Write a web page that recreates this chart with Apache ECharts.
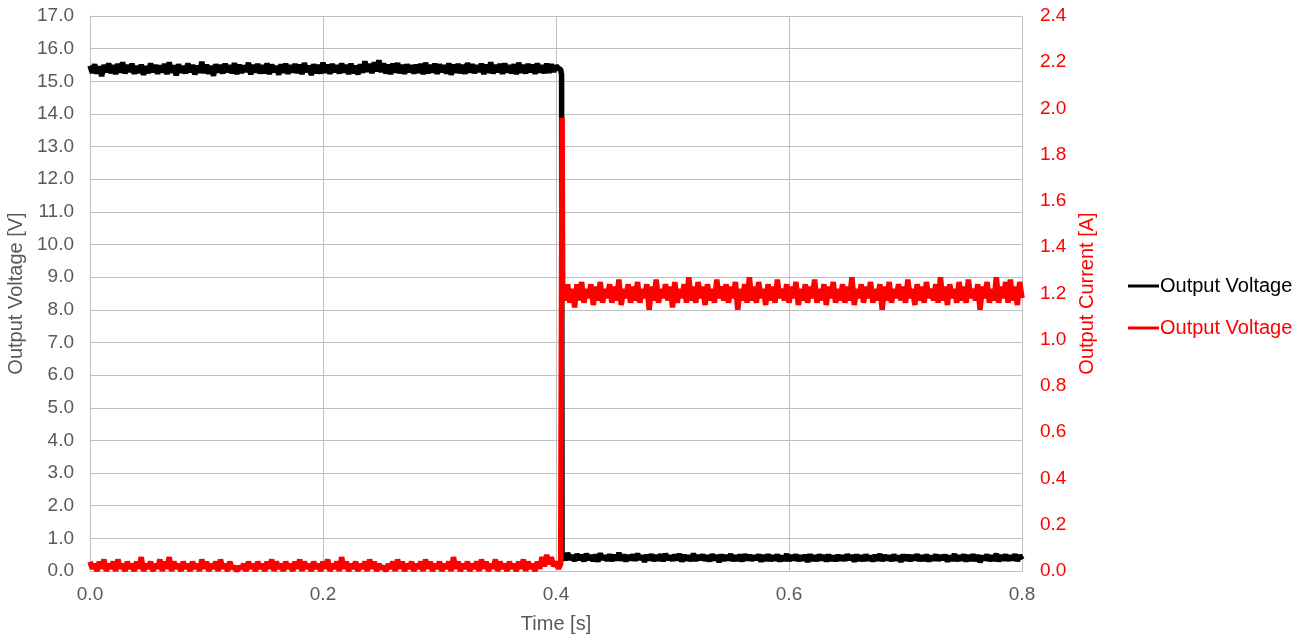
<!DOCTYPE html>
<html>
<head>
<meta charset="utf-8">
<script src="https://cdn.jsdelivr.net/npm/echarts@6/dist/echarts.min.js"></script>
<style>
html,body{margin:0;padding:0;background:#fff;}
#chart{width:1303px;height:639px;}
</style>
</head>
<body>
<div id="chart"></div>
<script>
// ---- data ----
const SERIES_NAMES = ['Output Voltage', 'Output Current'];
const LEGEND_LABELS = ['Output Voltage', 'Output Voltage'];
const X_TICKS = [0.0, 0.2, 0.4, 0.6, 0.8];
const SAMPLE_STEP = 0.002;

// before the step (t = 0.000 ... 0.404)
const PRE_START = 0.0;
const voltagePre = [
15.48,15.26,15.52,15.24,15.46,15.16,15.50,15.28,15.55,15.25,
15.49,15.22,15.53,15.27,15.58,15.24,15.50,15.29,15.54,15.23,
15.47,15.26,15.51,15.20,15.46,15.25,15.55,15.28,15.50,15.23,
15.48,15.27,15.53,15.22,15.58,15.26,15.49,15.18,15.52,15.27,
15.47,15.24,15.55,15.28,15.50,15.21,15.48,15.26,15.60,15.25,
15.51,15.23,15.47,15.17,15.52,15.27,15.50,15.24,15.54,15.28,
15.49,15.25,15.56,15.22,15.51,15.26,15.48,15.29,15.57,15.21,
15.50,15.27,15.53,15.24,15.49,15.25,15.55,15.22,15.51,15.28,
15.47,15.20,15.52,15.26,15.54,15.23,15.49,15.27,15.53,15.25,
15.51,15.22,15.56,15.28,15.48,15.19,15.52,15.25,15.50,15.24,
15.57,15.26,15.51,15.23,15.53,15.28,15.49,15.24,15.55,15.27,
15.50,15.22,15.54,15.25,15.48,15.21,15.52,15.26,15.61,15.29,
15.53,15.25,15.58,15.31,15.64,15.28,15.55,15.24,15.51,15.22,
15.54,15.27,15.56,15.25,15.50,15.23,15.52,15.28,15.49,15.24,
15.51,15.26,15.53,15.22,15.57,15.25,15.50,15.27,15.54,15.23,
15.52,15.28,15.49,15.24,15.55,15.20,15.51,15.26,15.53,15.25,
15.50,15.23,15.56,15.27,15.52,15.25,15.49,15.29,15.54,15.22,
15.51,15.26,15.58,15.24,15.50,15.28,15.53,15.23,15.55,15.27,
15.49,15.25,15.52,15.22,15.57,15.26,15.50,15.24,15.53,15.28,
15.51,15.23,15.55,15.27,15.49,15.25,15.54,15.26,15.52,15.29,
15.47,15.40,15.36
];
const currentPre = [
0.04,0.01,0.03,0.00,0.04,0.01,0.05,0.00,0.03,0.01,
0.04,0.00,0.05,0.01,0.03,0.00,0.04,0.01,0.03,0.00,
0.04,0.01,0.06,0.00,0.03,0.01,0.04,0.00,0.03,0.01,
0.05,0.00,0.04,0.01,0.06,0.00,0.04,0.01,0.03,0.00,
0.04,0.01,0.03,0.00,0.04,0.01,0.03,0.00,0.05,0.01,
0.04,0.00,0.03,0.01,0.04,0.00,0.05,0.01,0.03,0.00,
0.04,0.01,0.02,0.00,0.02,0.01,0.03,0.00,0.04,0.01,
0.03,0.00,0.04,0.01,0.03,0.00,0.04,0.01,0.05,0.00,
0.04,0.01,0.03,0.00,0.04,0.01,0.03,0.00,0.04,0.01,
0.05,0.00,0.04,0.01,0.03,0.00,0.04,0.01,0.03,0.00,
0.04,0.01,0.05,0.00,0.03,0.01,0.04,0.00,0.06,0.01,
0.04,0.00,0.03,0.01,0.04,0.00,0.03,0.01,0.04,0.00,
0.05,0.01,0.04,0.00,0.03,0.01,0.02,0.00,0.03,0.01,
0.04,0.00,0.05,0.01,0.04,0.00,0.03,0.01,0.04,0.00,
0.03,0.01,0.04,0.00,0.05,0.01,0.04,0.00,0.03,0.01,
0.04,0.00,0.03,0.01,0.04,0.00,0.06,0.01,0.04,0.00,
0.03,0.01,0.04,0.00,0.03,0.01,0.04,0.00,0.05,0.01,
0.04,0.00,0.03,0.01,0.05,0.00,0.04,0.01,0.03,0.00,
0.04,0.01,0.03,0.00,0.04,0.01,0.05,0.00,0.04,0.01,
0.03,0.00,0.04,0.01,0.06,0.02,0.07,0.03,0.06,0.02,
0.04,0.01,0.03
];

// the switching edge
const stepTimes   = [0.4048, 0.4052, 0.4058];
const stepVoltage = [15.20, 0.50, 0.42];
const stepCurrent = [0.03, 1.96, 1.18];

// after the step (t = 0.406 ... 0.800)
const POST_START = 0.406;
const voltagePost = [
0.50,0.33,0.55,0.35,0.48,0.31,0.52,0.34,0.49,0.30,
0.53,0.34,0.48,0.31,0.50,0.29,0.54,0.35,0.47,0.32,
0.51,0.31,0.49,0.33,0.56,0.32,0.50,0.30,0.48,0.34,
0.50,0.32,0.53,0.35,0.47,0.28,0.49,0.33,0.51,0.31,
0.48,0.33,0.51,0.30,0.53,0.34,0.47,0.32,0.50,0.33,
0.52,0.29,0.49,0.33,0.47,0.31,0.53,0.32,0.48,0.35,
0.50,0.32,0.47,0.30,0.51,0.33,0.49,0.27,0.50,0.32,
0.48,0.34,0.52,0.31,0.47,0.32,0.50,0.30,0.51,0.33,
0.49,0.32,0.47,0.35,0.50,0.29,0.48,0.32,0.51,0.31,
0.47,0.33,0.50,0.30,0.46,0.32,0.52,0.31,0.48,0.34,
0.50,0.31,0.47,0.33,0.49,0.28,0.51,0.32,0.47,0.31,
0.50,0.34,0.48,0.30,0.50,0.32,0.46,0.31,0.49,0.33,
0.47,0.32,0.51,0.35,0.48,0.29,0.50,0.32,0.47,0.31,
0.50,0.33,0.46,0.30,0.49,0.32,0.52,0.31,0.48,0.34,
0.47,0.31,0.50,0.33,0.47,0.28,0.50,0.32,0.49,0.31,
0.48,0.34,0.51,0.31,0.47,0.32,0.50,0.30,0.46,0.33,
0.50,0.32,0.48,0.35,0.49,0.29,0.47,0.32,0.52,0.31,
0.47,0.33,0.50,0.30,0.48,0.32,0.51,0.31,0.49,0.27,
0.46,0.34,0.50,0.31,0.47,0.32,0.53,0.30,0.48,0.33,
0.50,0.32,0.47,0.34,0.51,0.31,0.48,0.35
];
const currentPost = [
1.23,1.17,1.24,1.16,1.22,1.14,1.24,1.17,1.25,1.16,
1.22,1.18,1.24,1.15,1.23,1.17,1.25,1.16,1.22,1.18,
1.24,1.16,1.23,1.17,1.26,1.15,1.22,1.18,1.24,1.16,
1.23,1.17,1.25,1.16,1.22,1.18,1.24,1.13,1.23,1.17,
1.26,1.16,1.22,1.18,1.24,1.17,1.23,1.14,1.25,1.16,
1.22,1.18,1.24,1.16,1.27,1.17,1.23,1.16,1.25,1.18,
1.23,1.15,1.24,1.17,1.22,1.16,1.26,1.18,1.23,1.17,
1.24,1.16,1.23,1.18,1.25,1.13,1.22,1.17,1.24,1.16,
1.27,1.17,1.23,1.16,1.25,1.18,1.22,1.15,1.24,1.17,
1.23,1.16,1.26,1.18,1.22,1.17,1.24,1.16,1.23,1.18,
1.25,1.15,1.22,1.17,1.24,1.16,1.23,1.18,1.26,1.16,
1.22,1.17,1.24,1.15,1.23,1.18,1.25,1.16,1.22,1.17,
1.24,1.16,1.23,1.17,1.27,1.15,1.22,1.18,1.24,1.16,
1.23,1.18,1.25,1.16,1.22,1.17,1.24,1.13,1.23,1.17,
1.25,1.16,1.22,1.18,1.24,1.17,1.23,1.16,1.26,1.18,
1.22,1.15,1.24,1.17,1.23,1.16,1.25,1.18,1.22,1.17,
1.24,1.16,1.27,1.17,1.23,1.15,1.24,1.18,1.22,1.16,
1.25,1.17,1.23,1.16,1.26,1.18,1.22,1.17,1.24,1.13,
1.23,1.18,1.25,1.16,1.22,1.17,1.27,1.16,1.23,1.18,
1.25,1.16,1.26,1.17,1.23,1.15,1.25,1.18
];

// ---- build point lists (sample time, value) ----
function samples(start, vals) {
  return vals.map((v, i) => [+(start + i * SAMPLE_STEP).toFixed(4), v]);
}
function build(pre, stepVals, post) {
  return samples(PRE_START, pre)
    .concat(stepTimes.map((t, i) => [t, stepVals[i]]))
    .concat(samples(POST_START, post));
}
const voltageData = build(voltagePre, stepVoltage, voltagePost);
const currentData = build(currentPre, stepCurrent, currentPost);

const GRAY = '#595959';
const LINE = '#bfbfbf';
const FONT = 'Liberation Sans, Arial, sans-serif';

const chart = echarts.init(document.getElementById('chart'), null, {renderer: 'canvas'});
chart.setOption({
  animation: false,
  backgroundColor: '#fff',
  textStyle: {fontFamily: FONT},
  grid: {left: 90, right: 281, top: 16, bottom: 68, containLabel: false, outerBoundsMode: 'none'},
  legend: {
    orient: 'vertical',
    left: 1123,
    top: 271,
    itemWidth: 31,
    itemHeight: 3,
    itemGap: 22,
    icon: 'rect',
    textStyle: {fontSize: 20, fontFamily: FONT, padding: [0, 0, 0, -4]},
    formatter: name => LEGEND_LABELS[SERIES_NAMES.indexOf(name)],
    data: [
      {name: SERIES_NAMES[0], textStyle: {color: '#000'}},
      {name: SERIES_NAMES[1], textStyle: {color: '#ff0000'}}
    ]
  },
  xAxis: {
    type: 'value',
    min: 0, max: 0.8, interval: 0.2,
    name: 'Time [s]',
    nameLocation: 'middle',
    nameGap: 43,
    nameTextStyle: {color: GRAY, fontSize: 20, fontFamily: FONT},
    axisLine: {show: true, lineStyle: {color: LINE, width: 1}},
    axisTick: {show: false},
    axisLabel: {color: GRAY, fontSize: 19, fontFamily: FONT, margin: 14,
      formatter: v => (X_TICKS.indexOf(+v.toFixed(1)) >= 0 ? v.toFixed(1) : '')},
    splitLine: {show: true, lineStyle: {color: LINE, width: 1}}
  },
  yAxis: [
    {
      type: 'value',
      min: 0, max: 17, interval: 1,
      name: 'Output Voltage [V]',
      nameLocation: 'middle',
      nameGap: 61,
      nameTextStyle: {color: GRAY, fontSize: 20, fontFamily: FONT},
      axisLine: {show: true, lineStyle: {color: LINE, width: 1}},
      axisTick: {show: false},
      axisLabel: {color: GRAY, fontSize: 19, fontFamily: FONT, margin: 16, formatter: v => v.toFixed(1)},
      splitLine: {show: true, lineStyle: {color: LINE, width: 1}}
    },
    {
      type: 'value',
      min: 0, max: 2.4, interval: 0.2,
      name: 'Output Current [A]',
      nameLocation: 'middle',
      nameGap: 55,
      nameTextStyle: {color: '#ff0000', fontSize: 20, fontFamily: FONT},
      axisLine: {show: true, lineStyle: {color: LINE, width: 1}},
      axisTick: {show: false},
      axisLabel: {color: '#ff0000', fontSize: 19, fontFamily: FONT, margin: 18, formatter: v => v.toFixed(1)},
      splitLine: {show: false}
    }
  ],
  series: [
    {
      name: SERIES_NAMES[0],
      type: 'line',
      yAxisIndex: 0,
      data: voltageData,
      showSymbol: false,
      symbol: 'none',
      clip: false,
      color: '#000',
      lineStyle: {color: '#000', width: 5.5},
      z: 2
    },
    {
      name: SERIES_NAMES[1],
      type: 'line',
      yAxisIndex: 1,
      data: currentData,
      showSymbol: false,
      symbol: 'none',
      clip: false,
      color: '#ff0000',
      lineStyle: {color: '#ff0000', width: 5.5},
      z: 3
    }
  ]
});
</script>
</body>
</html>
